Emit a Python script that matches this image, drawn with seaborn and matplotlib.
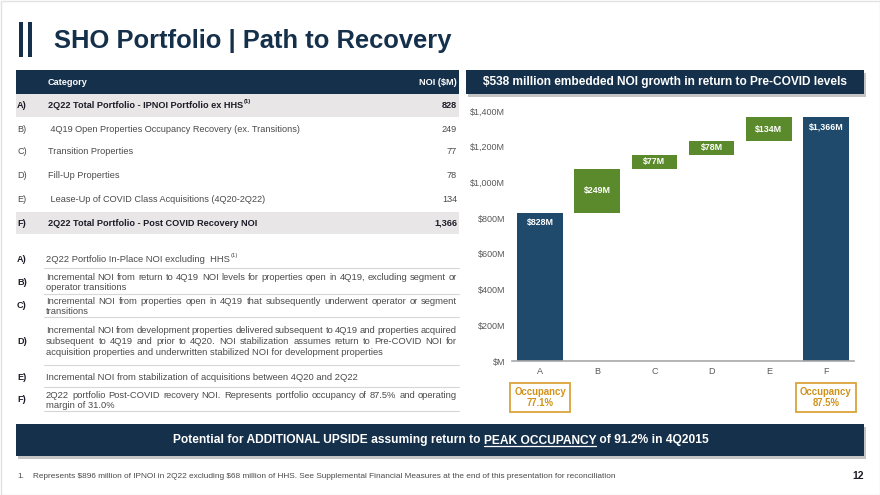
import numpy as np
import pandas as pd
import seaborn as sns
import matplotlib.pyplot as plt
from matplotlib.patches import Rectangle

# waterfall data
categories = ["A", "B", "C", "D", "E", "F"]
noi = [828, 249, 77, 78, 134, 1366]
is_total = [True, False, False, False, False, True]
occupancy = {"A": "77.1%", "F": "87.5%"}

# left table
table_keys = ["A)", "B)", "C)", "D)", "E)", "F)"]
table_labels = [
    "2Q22 Total Portfolio - IPNOI Portfolio ex HHS",
    " 4Q19 Open Properties Occupancy Recovery (ex. Transitions)",
    "Transition Properties",
    "Fill-Up Properties",
    " Lease-Up of COVID Class Acquisitions (4Q20-2Q22)",
    "2Q22 Total Portfolio - Post COVID Recovery NOI",
]
table_values = ["828", "249", "77", "78", "134", "1,366"]

note_lines = [
    ["2Q22 Portfolio In-Place NOI excluding  HHS"],
    ["Incremental NOI from return to 4Q19 NOI levels for properties open in 4Q19, excluding segment or",
     "operator transitions"],
    ["Incremental NOI from properties open in 4Q19 that subsequently underwent operator or segment",
     "transitions"],
    ["Incremental NOI from development properties delivered subsequent to 4Q19 and properties acquired",
     "subsequent to 4Q19 and prior to 4Q20. NOI stabilization assumes return to Pre-COVID NOI for",
     "acquisition properties and underwritten stabilized NOI for development properties"],
    ["Incremental NOI from stabilization of acquisitions between 4Q20 and 2Q22"],
    ["2Q22 portfolio Post-COVID recovery NOI. Represents portfolio occupancy of 87.5% and operating",
     "margin of 31.0%"],
]

NAVY = "#15304b"
BAR_NAVY = "#1f4a6c"
GREEN = "#5b8a2c"
GOLD = "#dba23a"
GOLD_TXT = "#d0921a"
ROW_GRAY = "#e8e6e6"
TXT = "#4a4a4a"
DARK = "#1c1c28"
FS = 6.55   # table text size
NFS = 6.75  # notes text size

sns.set_theme(style="white")
plt.rcParams["font.family"] = ["Liberation Sans", "DejaVu Sans"]

W, H = 880, 495
fig = plt.figure(figsize=(8.8, 4.95), dpi=100)
bg = fig.add_axes([0, 0, 1, 1])
bg.set_xlim(0, W)
bg.set_ylim(H, 0)
bg.axis("off")
renderer = fig.canvas.get_renderer()


def box(x0, y0, x1, y1, color):
    bg.add_patch(Rectangle((x0, y0), x1 - x0, y1 - y0, facecolor=color, edgecolor="none"))


def width_of(s, size, weight="normal"):
    t = bg.text(0, 0, s, fontsize=size, weight=weight)
    w = t.get_window_extent(renderer).width
    t.remove()
    return w


def justified(s, x0, x1, y, size, color):
    words = s.split()
    ws = [width_of(w, size) for w in words]
    gap = (x1 - x0 - sum(ws)) / (len(words) - 1)
    x = x0
    for w, wd in zip(words, ws):
        bg.text(x, y, w, fontsize=size, color=color, va="center")
        x += wd + gap


# slide frame + title
bg.add_patch(Rectangle((0.5, 0.5), W - 1, H - 1, fill=False, ec="#e2e2e2", lw=1))
box(19, 22, 23, 57, NAVY)
box(28, 22, 32, 57, NAVY)
bg.text(54, 48, "SHO Portfolio | Path to Recovery", fontsize=18.4, weight="bold",
        color=NAVY, va="baseline")

# table
box(16, 70, 459, 93.5, NAVY)
bg.text(48, 82.5, "Category", fontsize=6.6, weight="bold", color="white", va="center")
bg.text(457, 82.5, "NOI (\\$M)", fontsize=6.6, weight="bold", color="white", va="center", ha="right")
row_y = [105, 129, 152, 176, 199.5, 223]
box(16, 94, 459, 117, ROW_GRAY)
box(16, 212, 459, 234, ROW_GRAY)
for i, (k, lab, val) in enumerate(zip(table_keys, table_labels, table_values)):
    bold = i in (0, 5)
    c = DARK if bold else TXT
    wt = "bold" if bold else "normal"
    bg.text(17, row_y[i], k, fontsize=FS, weight=wt, color=c, va="center")
    bg.text(48, row_y[i], lab, fontsize=FS, weight=wt, color=c, va="center")
    bg.text(457, row_y[i], val, fontsize=FS, weight=wt, color=c, va="center", ha="right")
    if i == 0:
        bg.text(48 + width_of(lab, FS, "bold") + 0.5, row_y[i] - 3, "(1)",
                fontsize=4.2, weight="bold", color=c, va="center")

# notes
note_key_y = [259, 282.5, 306, 341, 377, 400]
note_first_y = [259, 277, 301, 330.5, 377, 395]
note_sep_y = [267.5, 294, 317, 364.5, 387, 411]
for i, lines in enumerate(note_lines):
    bg.text(17, note_key_y[i], table_keys[i], fontsize=FS, weight="bold", color=DARK, va="center")
    for j, ln in enumerate(lines):
        y = note_first_y[i] + j * 11
        if j < len(lines) - 1:
            justified(ln, 46, 457, y, NFS, TXT)
        else:
            bg.text(46, y, ln, fontsize=NFS, color=TXT, va="center")
    bg.plot([44, 459], [note_sep_y[i]] * 2, color="#d6d6d6", lw=0.8)
bg.text(46 + width_of(note_lines[0][0], NFS) + 0.5, note_key_y[0] - 3, "(1)",
        fontsize=4.3, color=TXT, va="center")

# chart header
box(468, 72.5, 866, 96.5, "#c4c4c4")
box(466, 70, 864, 94, NAVY)
bg.text(665, 82.5, "\\$538 million embedded NOI growth in return to Pre-COVID levels",
        fontsize=8.6, weight="bold", color="white", ha="center", va="center")

# waterfall chart
bases = []
run = 0
for v, tot in zip(noi, is_total):
    if tot:
        bases.append(0)
        run = v
    else:
        bases.append(run)
        run += v
df = pd.DataFrame({"cat": categories, "noi": noi, "base": bases})
palette = {c: (BAR_NAVY if t else GREEN) for c, t in zip(categories, is_total)}

ax = fig.add_axes([512 / W, 1 - 361 / H, (854 - 512) / W, 250 / H])
ax.patch.set_alpha(0)
sns.barplot(data=df, x="cat", y="noi", hue="cat", palette=palette, legend=False,
            width=0.795, saturation=1, linewidth=0, ax=ax)
for patch, b in zip(ax.patches, bases):
    patch.set_y(b)

for i, (v, b, tot) in enumerate(zip(noi, bases, is_total)):
    lab = "\\$" + f"{v:,}M"
    if tot:
        ax.text(i, b + v - 55, lab, ha="center", va="center", color="white",
                fontsize=6.4, weight="bold")
    else:
        ax.text(i, b + v / 2, lab, ha="center", va="center", color="white",
                fontsize=6.4, weight="bold")

ax.set_ylim(0, 1400)
ax.set_xlim(-0.49, 5.49)
ax.set_yticks(range(0, 1401, 200))
ax.set_yticklabels(["\\$M" if t == 0 else "\\$" + f"{t:,}M" for t in range(0, 1401, 200)])
ax.set_xlabel("")
ax.set_ylabel("")
sns.despine(ax=ax, left=True)
ax.spines["bottom"].set_color("#a8a8a8")
ax.spines["bottom"].set_linewidth(1.2)
ax.tick_params(axis="y", length=0, labelsize=6.5, labelcolor="#595959", pad=5)
ax.tick_params(axis="x", length=0, labelsize=6.5, labelcolor="#595959", pad=4)

for c, occ in occupancy.items():
    i = categories.index(c)
    ax.text(i, -0.146, "Occupancy\n" + occ, transform=ax.get_xaxis_transform(),
            ha="center", va="center", fontsize=6.9, weight="bold", color=GOLD_TXT,
            linespacing=1.05,
            bbox=dict(boxstyle="square,pad=0.42", fc="white", ec=GOLD, lw=1.3))

# bottom banner
box(18, 426.5, 866, 458.5, "#c4c4c4")
box(16, 424, 864, 456, NAVY)
parts = ["Potential for ADDITIONAL UPSIDE assuming return to ", "PEAK OCCUPANCY", " of 91.2% in 4Q2015"]
bsize = 8.65
pw = [width_of(p, bsize, "bold") for p in parts]
x = 441 - sum(pw) / 2
for k, (p, w) in enumerate(zip(parts, pw)):
    bg.text(x, 443.5, p, fontsize=bsize, weight="bold", color="white", va="baseline")
    if k == 1:
        bg.plot([x, x + w], [446, 446], color="white", lw=0.9)
    x += w

# footnote
bg.text(17, 477, "1.", fontsize=5.95, color=TXT, va="center")
bg.text(33, 477, "Represents \\$896 million of IPNOI in 2Q22 excluding \\$68 million of HHS. "
        "See Supplemental Financial Measures at the end of this presentation for reconciliation",
        fontsize=5.95, color=TXT, va="center")
bg.text(864, 476, "12", fontsize=7.5, weight="bold", color=DARK, va="center", ha="right")

fig.savefig("out.png", dpi=100)
